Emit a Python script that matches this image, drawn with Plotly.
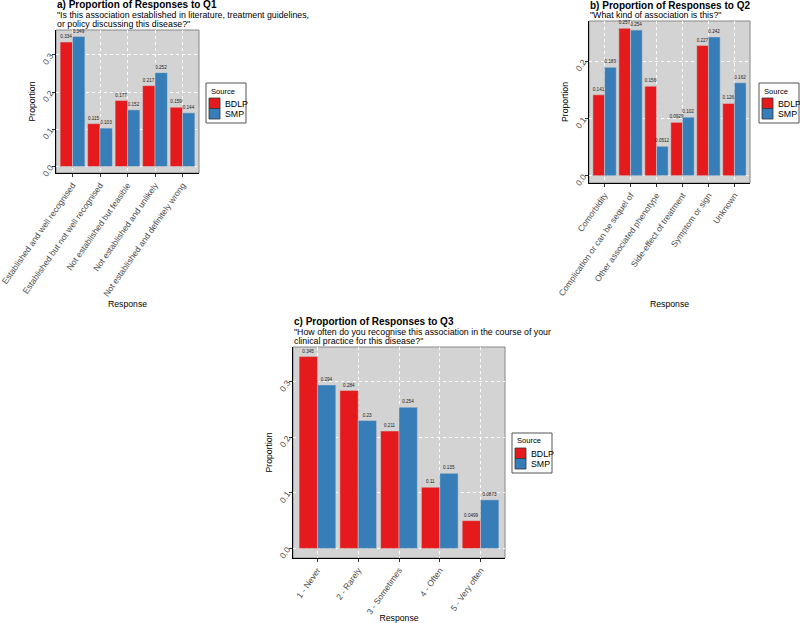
import plotly.graph_objects as go

W, H = 800, 623

q1_cats = ["Established and well recognised", "Established but not well recognised",
           "Not established but feasible", "Not established and unlikely",
           "Not established and definitely wrong"]
q1_bdlp = [0.334, 0.115, 0.177, 0.217, 0.159]
q1_smp = [0.349, 0.103, 0.152, 0.252, 0.144]

q2_cats = ["Comorbidity", "Complication or can be sequel of", "Other associated phenotype",
           "Side-effect of treatment", "Symptom or sign", "Unknown"]
q2_bdlp = [0.141, 0.257, 0.156, 0.0929, 0.227, 0.126]
q2_smp = [0.189, 0.254, 0.0512, 0.102, 0.242, 0.162]

q3_cats = ["1 - Never", "2 - Rarely", "3 - Sometimes", "4 - Often", "5 - Very often"]
q3_bdlp = [0.345, 0.284, 0.211, 0.11, 0.0499]
q3_smp = [0.294, 0.23, 0.254, 0.135, 0.0873]

sources = ["BDLP", "SMP"]
colors = {"BDLP": "#E41A1C", "SMP": "#377EB8"}

titles = ["a) Proportion of Responses to Q1", "b) Proportion of Responses to Q2",
          "c) Proportion of Responses to Q3"]
subtitles = [['"Is this association established in literature, treatment guidelines,',
              'or policy discussing this disease?"'],
             ['"What kind of association is this?"'],
             ['"How often do you recognise this association in the course of your',
              'clinical practice for this disease?"']]

# panel boxes in pixels: (left, right, top, bottom)
panels = [(56, 199, 30, 173), (589, 750, 21, 183), (293, 505, 347, 558)]
legend_pos = [(206, 83), (759, 83), (512, 433)]

FONT = "Liberation Sans, Arial, sans-serif"


def px(x):
    return x / W


def py(y):
    return 1 - y / H


fig = go.Figure()
data = [(q1_cats, q1_bdlp, q1_smp), (q2_cats, q2_bdlp, q2_smp), (q3_cats, q3_bdlp, q3_smp)]
layout = dict(width=W, height=H, margin=dict(l=0, r=0, t=0, b=0, autoexpand=False),
              paper_bgcolor="white", plot_bgcolor="#D3D3D3",
              barmode="group", bargap=0.1, bargroupgap=0.0, showlegend=False,
              font=dict(family=FONT, color="black"))
annotations = []
shapes = []
for i, (cats, b, s) in enumerate(data):
    k = "" if i == 0 else str(i + 1)
    xa, ya = "x" + k, "y" + k
    for name, vals in zip(sources, (b, s)):
        fig.add_trace(go.Bar(x=cats, y=vals, name=name, xaxis=xa, yaxis=ya,
                             marker=dict(color=colors[name], line=dict(color="#CFCFCF", width=0.5)),
                             text=[f"{v:.3g}" for v in vals], textposition="outside",
                             constraintext="none",
                             textfont=dict(size=4.6, color="#222"), cliponaxis=False,
                             offsetgroup=name))
    l, r, t, bt = panels[i]
    ymax = max(max(b), max(s))
    layout["xaxis" + k] = dict(domain=[px(l), px(r)], anchor=ya, type="category",
                               range=[-0.6, len(cats) - 0.4], tickangle=-55,
                               tickfont=dict(size=8.5, color="#4D4D4D"),
                               showgrid=True, gridcolor="white", griddash="dot", gridwidth=0.6,
                               showline=True, linecolor="black", linewidth=1,
                               ticks="outside", ticklen=3, tickcolor="#333",
                               title=dict(text="Response", font=dict(size=8.7), standoff=3),
                               fixedrange=True)
    layout["yaxis" + k] = dict(domain=[py(bt), py(t)], anchor=xa,
                               range=[-0.05 * ymax, 1.05 * ymax], dtick=0.1, tickformat=".1f",
                               tickangle=-55, tickfont=dict(size=8.5, color="#4D4D4D"),
                               showgrid=True, gridcolor="white", griddash="dot", gridwidth=0.6,
                               zeroline=False,
                               showline=True, linecolor="black", linewidth=1,
                               ticks="outside", ticklen=3, tickcolor="#333",
                               title=dict(text="Proportion", font=dict(size=8.7), standoff=3))
    shapes.append(dict(type="rect", xref=xa + " domain", yref=ya + " domain",
                       x0=0, x1=1, y0=0, y1=1, line=dict(color="#888", width=1), layer="below"))
    # titles
    lines = subtitles[i]
    last_y = t - 6
    for j, line in enumerate(lines):
        yy = last_y - (len(lines) - 1 - j) * 9.3
        annotations.append(dict(text=line, xref="paper", yref="paper", x=px(l - 1), y=py(yy),
                                xanchor="left", yanchor="middle", showarrow=False,
                                font=dict(size=8.8)))
    ty = last_y - (len(lines) - 1) * 9.3 - 10
    annotations.append(dict(text="<b>" + titles[i] + "</b>", xref="paper", yref="paper",
                            x=px(l - 1), y=py(ty), xanchor="left", yanchor="middle",
                            showarrow=False, font=dict(size=10)))
    # legend box
    bx, by = legend_pos[i]
    shapes.append(dict(type="rect", xref="paper", yref="paper",
                       x0=px(bx), x1=px(bx + 40), y0=py(by + 40), y1=py(by),
                       line=dict(color="#555", width=1), fillcolor="white"))
    annotations.append(dict(text="Source", xref="paper", yref="paper", x=px(bx + 3), y=py(by + 8),
                            xanchor="left", yanchor="middle", showarrow=False,
                            font=dict(size=7.6)))
    for j, name in enumerate(sources):
        y0 = by + 15 + j * 10.5
        shapes.append(dict(type="rect", xref="paper", yref="paper",
                           x0=px(bx + 3), x1=px(bx + 14), y0=py(y0 + 10.5), y1=py(y0),
                           line=dict(color="#333", width=0.8), fillcolor=colors[name]))
        annotations.append(dict(text=name, xref="paper", yref="paper", x=px(bx + 17),
                                y=py(y0 + 5.5), xanchor="left", yanchor="middle",
                                showarrow=False, font=dict(size=8.8)))

layout["annotations"] = annotations
layout["shapes"] = shapes
fig.update_layout(**layout)
fig.write_html("out.html", config={"displayModeBar": False},
               post_script="document.body.style.margin='0px';document.body.style.overflow='hidden';")
